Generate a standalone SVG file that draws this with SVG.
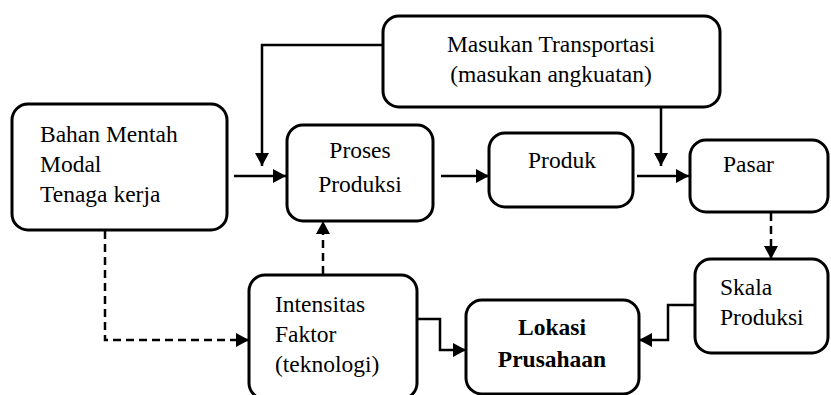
<svg xmlns="http://www.w3.org/2000/svg" width="831" height="395" viewBox="0 0 831 395">
<style>
.box{fill:#fff;stroke:#000;stroke-width:3}
.t{font-family:"Liberation Serif","Times New Roman",serif;font-size:23.5px;fill:#000}
.b{font-weight:bold}
.c{text-anchor:middle}
.ln{fill:none;stroke:#000;stroke-width:2.5}
.d{stroke-dasharray:8 5}
</style>
<defs>
<marker id="ah" markerUnits="userSpaceOnUse" markerWidth="14" markerHeight="14" refX="13" refY="7" orient="auto">
<path d="M0,0 L13,7 L0,14 z" fill="#000"/>
</marker>
</defs>
<rect width="831" height="395" fill="#fff"/>
<g id="connectors">
<path class="ln" d="M383,45 H262 V166" marker-end="url(#ah)"/>
<path class="ln" d="M234,176 H286" marker-end="url(#ah)"/>
<path class="ln" d="M441,176 H489" marker-end="url(#ah)"/>
<path class="ln" d="M637,176 H689" marker-end="url(#ah)"/>
<path class="ln" d="M661,108 V166" marker-end="url(#ah)"/>
<path class="ln d" d="M771,213 V259" marker-end="url(#ah)"/>
<path class="ln" d="M695,305 H668 V340 H639" marker-end="url(#ah)"/>
<path class="ln" d="M417,319 H440 V350 H466" marker-end="url(#ah)"/>
<path class="ln d" d="M105,231 V340 H249" marker-end="url(#ah)"/>
<path class="ln d" d="M323,274 V221" marker-end="url(#ah)"/>
</g>
<g id="masukan">
<rect class="box" x="383" y="16" width="337" height="91" rx="16"/>
<text class="t c" x="551" y="52">Masukan Transportasi</text>
<text class="t c" x="551" y="82">(masukan angkuatan)</text>
</g>
<g id="bahan">
<rect class="box" x="12" y="104" width="215" height="126" rx="16"/>
<text class="t" x="40" y="142">Bahan Mentah</text>
<text class="t" x="40" y="172">Modal</text>
<text class="t" x="40" y="202">Tenaga kerja</text>
</g>
<g id="proses">
<rect class="box" x="287" y="125" width="146" height="96" rx="16"/>
<text class="t c" x="360" y="158">Proses</text>
<text class="t c" x="360" y="192">Produksi</text>
</g>
<g id="produk">
<rect class="box" x="489" y="133" width="144" height="74" rx="16"/>
<text class="t c" x="562" y="168">Produk</text>
</g>
<g id="pasar">
<rect class="box" x="690" y="140" width="138" height="72" rx="16"/>
<text class="t" x="723" y="172">Pasar</text>
</g>
<g id="skala">
<rect class="box" x="695" y="259" width="133" height="94" rx="16"/>
<text class="t" x="720" y="295">Skala</text>
<text class="t" x="720" y="325">Produksi</text>
</g>
<g id="intensitas">
<rect class="box" x="249" y="275" width="168" height="124" rx="16"/>
<text class="t" x="275" y="312">Intensitas</text>
<text class="t" x="275" y="342">Faktor</text>
<text class="t" x="275" y="372">(teknologi)</text>
</g>
<g id="lokasi">
<rect class="box" x="466" y="300" width="173" height="94" rx="16"/>
<text class="t b c" x="552" y="335">Lokasi</text>
<text class="t b c" x="552" y="367">Prusahaan</text>
</g>
</svg>
